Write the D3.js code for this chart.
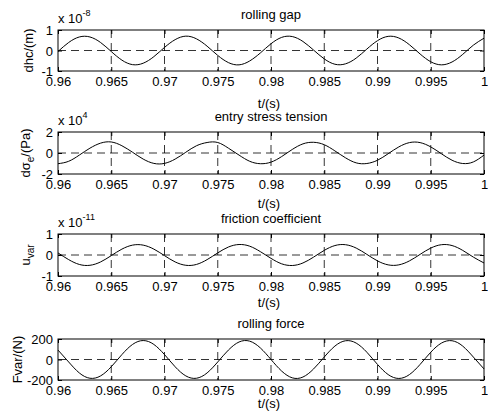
<!DOCTYPE html>
<html>
<head>
<meta charset="utf-8">
<script src="https://cdn.jsdelivr.net/npm/d3@7"></script>
<style>
  html, body { margin: 0; padding: 0; background: #fff; }
  svg { display: block; font-family: "Liberation Sans", Arial, sans-serif; }
</style>
</head>
<body>
<svg id="chart" width="488" height="414"></svg>
<script>
// Four stacked MATLAB-style subplots: rolling mill disturbance signals vs time.

// ── data ─────────────────────────────────────────────────────────────────

const tSec = [0.960, 0.961, 0.962, 0.963, 0.964, 0.965, 0.966, 0.967, 0.968, 0.969,
  0.970, 0.971, 0.972, 0.973, 0.974, 0.975, 0.976, 0.977, 0.978, 0.979,
  0.980, 0.981, 0.982, 0.983, 0.984, 0.985, 0.986, 0.987, 0.988, 0.989,
  0.990, 0.991, 0.992, 0.993, 0.994, 0.995, 0.996, 0.997, 0.998, 0.999, 1.000];

// rolling gap, units of 1e-8 m
const gapVals = [-0.05, 0.39, 0.66, 0.66, 0.39, -0.05, -0.47, -0.69, -0.62, -0.30,
  0.15, 0.53, 0.70, 0.57, 0.21, -0.24, -0.59, -0.70, -0.51, -0.12,
  0.33, 0.64, 0.68, 0.44, 0.02, -0.41, -0.67, -0.65, -0.37, 0.07,
  0.48, 0.69, 0.61, 0.28, -0.17, -0.55, -0.70, -0.56, -0.19, 0.26, 0.60];

// entry stress tension, units of 1e4 Pa
const stressVals = [-1.02, -0.79, -0.20, 0.46, 0.94, 1.05, 0.69, 0.07, -0.58, -0.99,
  -0.99, -0.58, 0.07, 0.69, 1.00, 1.00, 0.46, -0.20, -0.79, -1.02,
  -0.87, -0.34, 0.34, 0.87, 1.02, 0.79, 0.20, -0.46, -0.94, -1.00,
  -0.69, -0.07, 0.58, 0.99, 0.99, 0.58, -0.07, -0.69, -1.00, -0.85, -0.20];

// friction coefficient variation, units of 1e-11
const frictionVals = [0.10, -0.22, -0.45, -0.49, -0.33, -0.03, 0.28, 0.47, 0.47, 0.28,
  -0.03, -0.33, -0.49, -0.45, -0.22, 0.10, 0.38, 0.50, 0.42, 0.16,
  -0.16, -0.42, -0.50, -0.38, -0.10, 0.22, 0.45, 0.49, 0.33, 0.03,
  -0.28, -0.47, -0.47, -0.28, 0.03, 0.33, 0.49, 0.45, 0.22, -0.10, -0.38];

// rolling force variation, N
const forceVals = [92, -24, -131, -183, -160, -71, 48, 147, 185, 147,
  48, -71, -160, -183, -131, -24, 92, 171, 179, 113,
  0, -113, -179, -171, -92, 24, 131, 183, 160, 71,
  -48, -147, -185, -147, -48, 71, 160, 183, 131, 24, -92];

const xTicks = [0.96, 0.965, 0.97, 0.975, 0.98, 0.985, 0.99, 0.995, 1];
const xTickLabels = ["0.96", "0.965", "0.97", "0.975", "0.98", "0.985", "0.99", "0.995", "1"];

const titles = ["rolling gap", "entry stress tension", "friction coefficient", "rolling force"];
const yTicksGap = [-1, 0, 1];
const yTicksStress = [-2, 0, 2];
const yTicksFriction = [-1, 0, 1];
const yTicksForce = [-200, 0, 200];
const exponents = ["-8", "4", "-11", null];

// ── layout ───────────────────────────────────────────────────────────────

const W = 488, H = 414;
const left = 58, right = 484;
const FONT = 13;

const panels = [
  { title: titles[0], vals: gapVals, yTicks: yTicksGap, exp: exponents[0],
    top: 30, bottom: 71, xlabOff: 37, ylab: [{ t: "dhc/(m)" }], ylabX: 33 },
  { title: titles[1], vals: stressVals, yTicks: yTicksStress, exp: exponents[1],
    top: 132, bottom: 174, xlabOff: 34,
    ylab: [{ t: "d\u03c3" }, { t: "e", sub: true }, { t: "/(Pa)" }], ylabX: 30 },
  { title: titles[2], vals: frictionVals, yTicks: yTicksFriction, exp: exponents[2],
    top: 234, bottom: 276, xlabOff: 31,
    ylab: [{ t: "u" }, { t: "var", sub: true }], ylabX: 30 },
  { title: titles[3], vals: forceVals, yTicks: yTicksForce, exp: exponents[3],
    top: 339, bottom: 380, xlabOff: 28, ylab: [{ t: "Fvar/(N)" }], ylabX: 22 },
];

const svg = d3.select("#chart");
svg.append("rect").attr("width", W).attr("height", H).attr("fill", "#fff");

const x = d3.scaleLinear().domain([0.96, 1]).range([left, right]);

for (const p of panels) {
  const yMax = d3.max(p.yTicks);
  const y = d3.scaleLinear().domain([-yMax, yMax]).range([p.bottom, p.top]);
  const g = svg.append("g");
  const midY = (p.top + p.bottom) / 2;

  // dashed grid
  g.append("g").selectAll("line.vg").data(xTicks.slice(1, -1)).join("line")
    .attr("x1", d => x(d)).attr("x2", d => x(d))
    .attr("y1", p.top).attr("y2", p.bottom)
    .attr("stroke", "#000").attr("stroke-width", 0.8).attr("stroke-dasharray", "8,5");
  g.append("g").selectAll("line.hg").data(p.yTicks.slice(1, -1)).join("line")
    .attr("x1", left).attr("x2", right)
    .attr("y1", d => y(d)).attr("y2", d => y(d))
    .attr("stroke", "#000").attr("stroke-width", 0.8).attr("stroke-dasharray", "8,5");

  // curve
  const line = d3.line().x((d, i) => x(tSec[i])).y(d => y(d)).curve(d3.curveNatural);
  g.append("path").datum(p.vals).attr("d", line)
    .attr("fill", "none").attr("stroke", "#000").attr("stroke-width", 1);

  // axes, ticks inward
  const axB = g.append("g").attr("transform", `translate(0,${p.bottom})`)
    .call(d3.axisBottom(x).tickValues(xTicks).tickFormat((d, i) => xTickLabels[i])
      .tickSizeInner(-4).tickSizeOuter(0).tickPadding(6));
  const axT = g.append("g").attr("transform", `translate(0,${p.top})`)
    .call(d3.axisTop(x).tickValues(xTicks).tickFormat("").tickSizeInner(-4).tickSizeOuter(0));
  const axL = g.append("g").attr("transform", `translate(${left},0)`)
    .call(d3.axisLeft(y).tickValues(p.yTicks).tickFormat(d3.format("d"))
      .tickSizeInner(-4).tickSizeOuter(0).tickPadding(5));
  const axR = g.append("g").attr("transform", `translate(${right},0)`)
    .call(d3.axisRight(y).tickValues(p.yTicks).tickFormat("").tickSizeInner(-4).tickSizeOuter(0));
  for (const ax of [axB, axT, axL, axR]) {
    ax.select(".domain").remove();
    ax.selectAll("line").attr("stroke", "#000");
    ax.selectAll("text").attr("fill", "#000").attr("font-size", FONT)
      .attr("font-family", "Liberation Sans, Arial, sans-serif");
  }
  axB.selectAll("text").attr("dy", null).attr("y", 15);
  axL.selectAll("text").attr("dy", "0.36em");
  axL.selectAll("text").text(d => d === 0 ? "0" : d3.format("d")(d).replace("\u2212", "-"));

  // box
  g.append("rect").attr("x", left).attr("y", p.top)
    .attr("width", right - left).attr("height", p.bottom - p.top)
    .attr("fill", "none").attr("stroke", "#000").attr("stroke-width", 1);

  // title
  g.append("text").attr("x", (left + right) / 2).attr("y", p.top - 11)
    .attr("text-anchor", "middle").attr("font-size", FONT).text(p.title);

  // x label
  g.append("text").attr("x", (left + right) / 2 - 2).attr("y", p.bottom + p.xlabOff)
    .attr("text-anchor", "middle").attr("font-size", FONT).text("t/(s)");

  // y label (rotated, with optional subscripts)
  const yl = g.append("text")
    .attr("transform", `translate(${p.ylabX},${midY}) rotate(-90)`)
    .attr("text-anchor", "middle").attr("font-size", FONT);
  let shifted = false;
  for (const part of p.ylab) {
    const ts = yl.append("tspan").text(part.t);
    if (part.sub && !shifted) { ts.attr("dy", 4).attr("font-size", 10); shifted = true; }
    else if (!part.sub && shifted) { ts.attr("dy", -4); shifted = false; }
  }

  // exponent label
  if (p.exp) {
    const ex = g.append("text").attr("x", left).attr("y", p.top - 7).attr("font-size", FONT);
    ex.append("tspan").text("x 10");
    ex.append("tspan").attr("dy", -7).attr("font-size", 9).text(p.exp);
  }
}
</script>
</body>
</html>
